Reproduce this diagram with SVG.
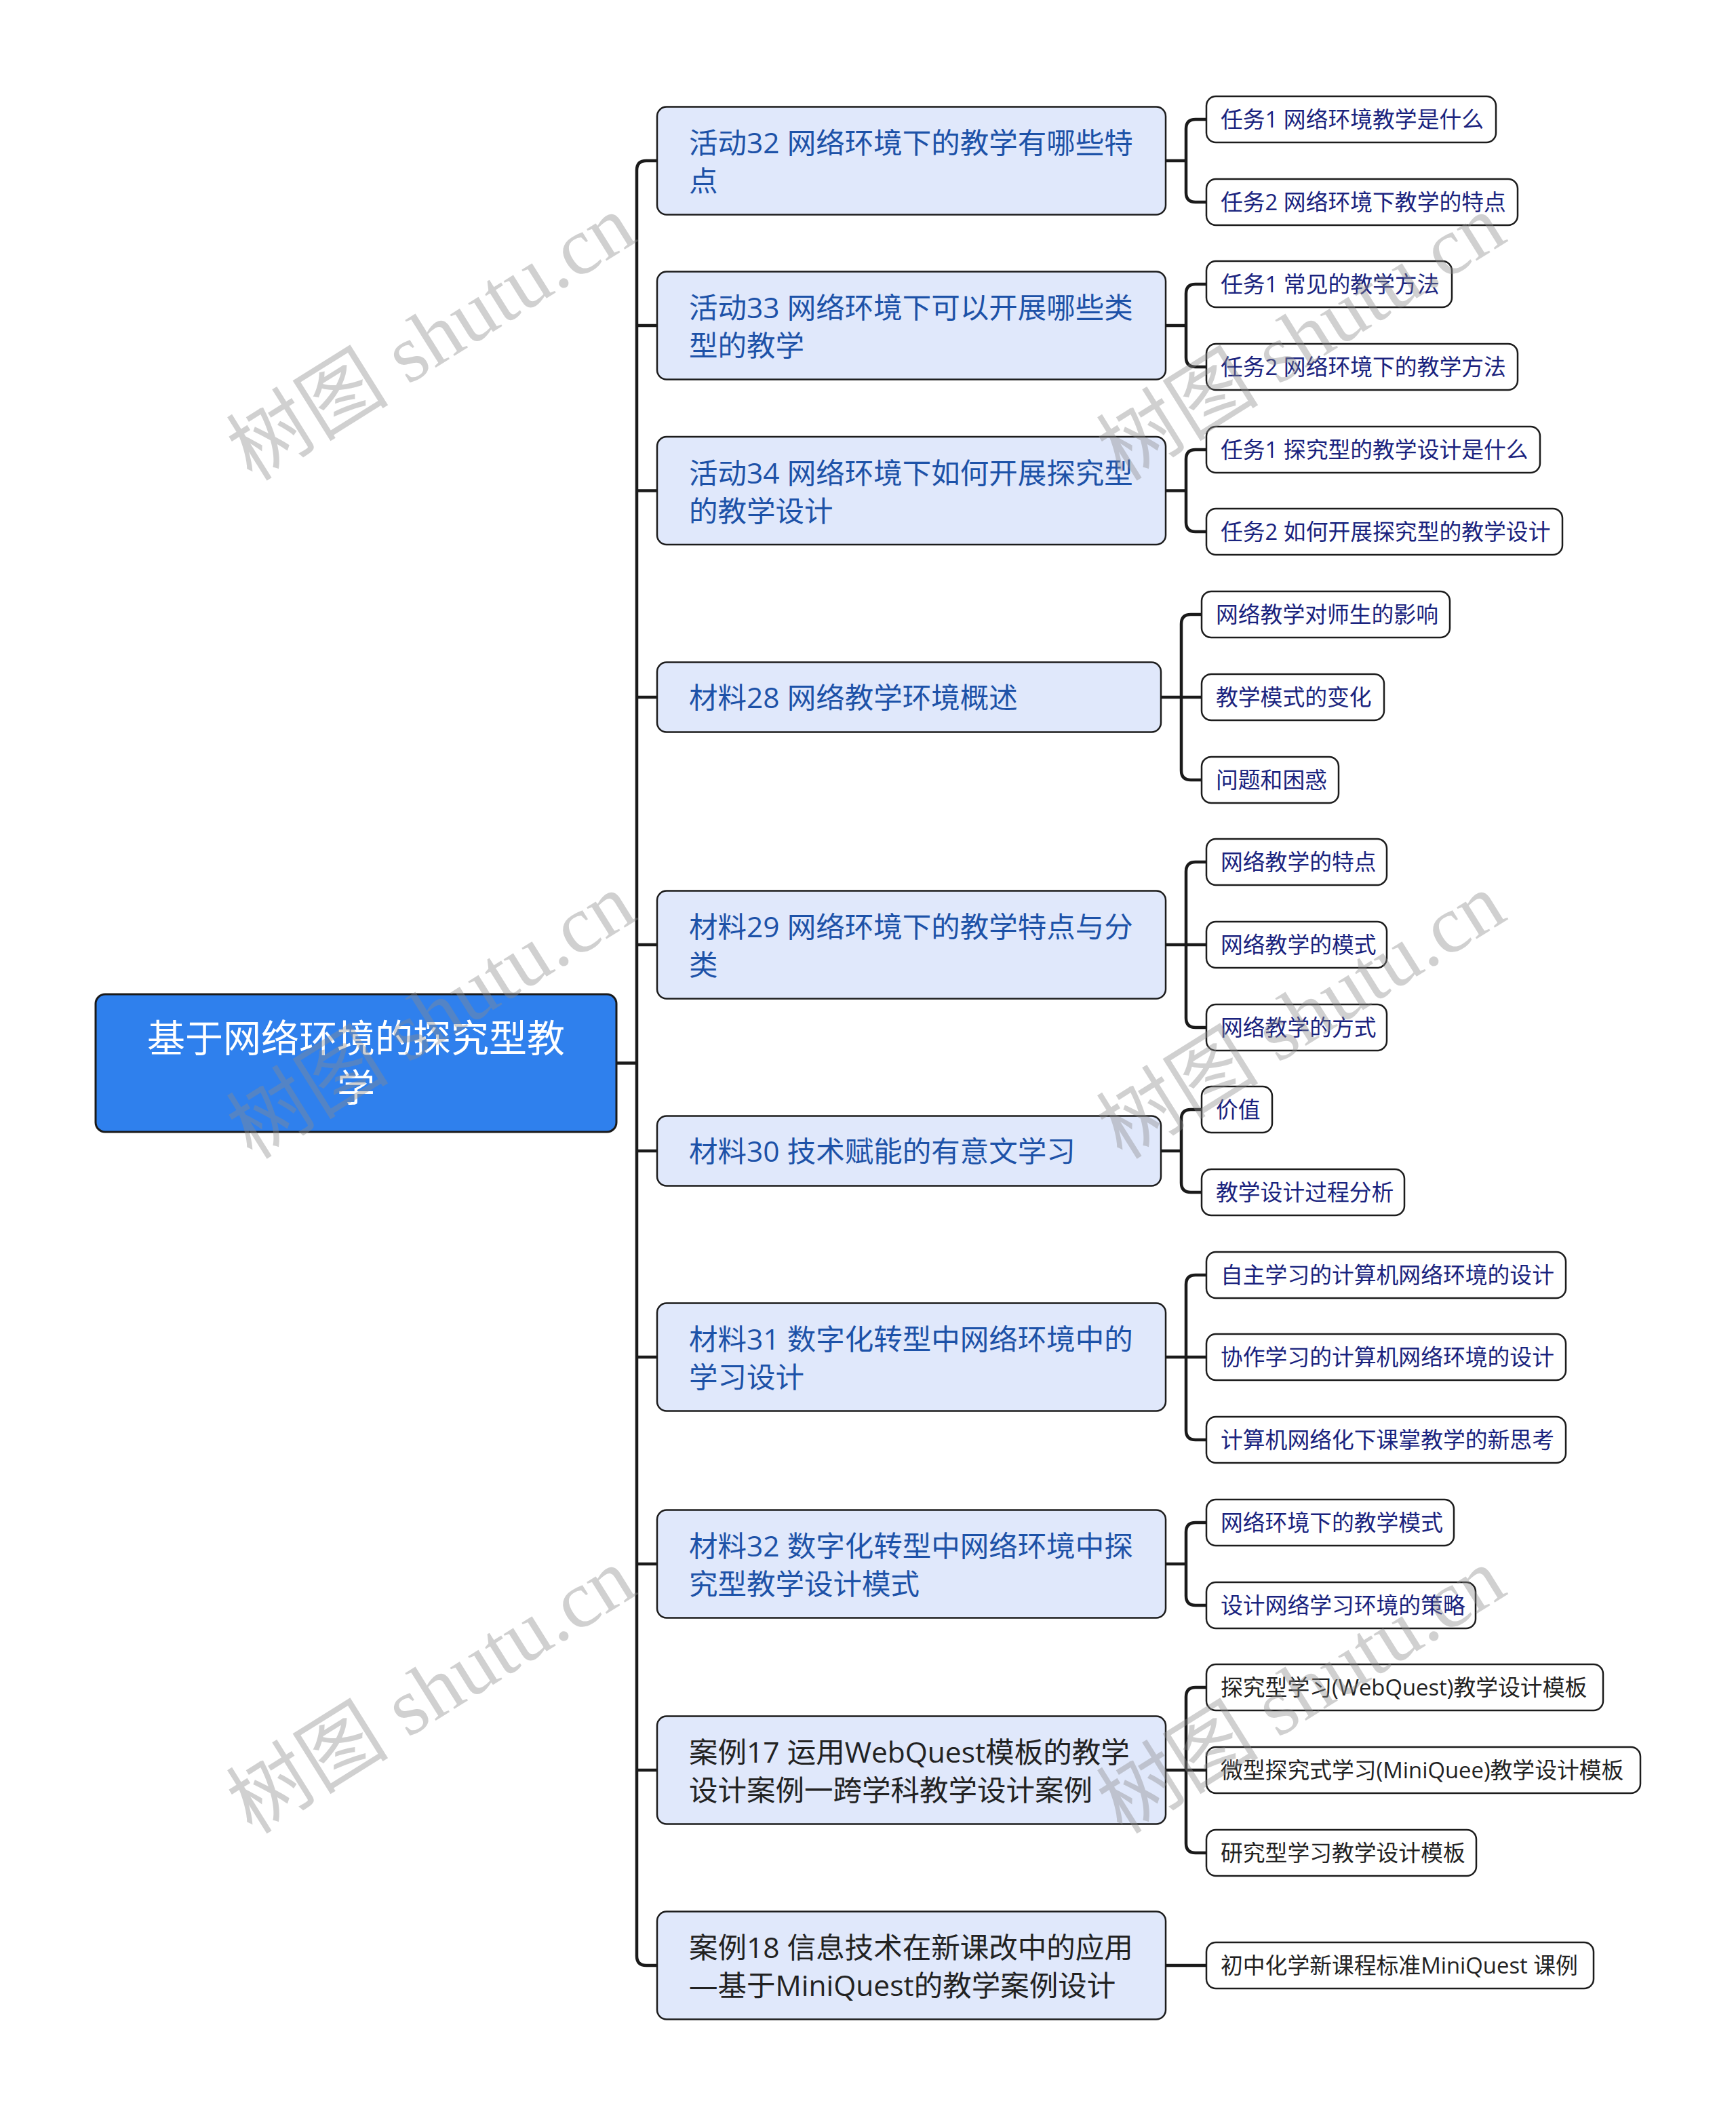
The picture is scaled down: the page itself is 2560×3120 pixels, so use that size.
<svg xmlns="http://www.w3.org/2000/svg" width="2560" height="3120" viewBox="0 0 2560 3120">
<style>
.bg{fill:#ffffff}
.root rect{fill:#2F80ED;stroke:#1a1a1a;stroke-width:3}
.root text{font-family:"Open Sans","Noto Sans CJK SC",sans-serif;font-size:56px;fill:#ffffff;text-anchor:middle}
.l1 rect{fill:#E0E8FB;stroke:#1c1c1c;stroke-width:2.5}
.l1 text{font-family:"Open Sans","Noto Sans CJK SC",sans-serif;font-size:42.5px;fill:#1D52A8}
.l1.k text{fill:#222222}
.l2 rect{fill:#ffffff;stroke:#1c1c1c;stroke-width:2.5}
.l2 text{font-family:"Open Sans","Noto Sans CJK SC",sans-serif;font-size:32.8px;fill:#1a237e}
.l2.k text{fill:#222222}
.conn path{fill:none;stroke:#1a1a1a;stroke-width:4.5}
.wm{font-family:"Liberation Serif","Noto Sans CJK SC",serif;font-size:120px;fill:#8c8c8c;opacity:0.4}
</style>
<rect class="bg" x="0" y="0" width="2560" height="3120"/>

<g id="connectors" class="conn">
  <path d="M909,1567.5 H939"/>
  <path d="M969,237 H953 Q939,237 939,251 V2884 Q939,2898 953,2898 H969"/>
  <path d="M939,480 H969"/>
  <path d="M939,723.5 H969"/>
  <path d="M939,1028 H969"/>
  <path d="M939,1393 H969"/>
  <path d="M939,1697 H969"/>
  <path d="M939,2001 H969"/>
  <path d="M939,2306 H969"/>
  <path d="M939,2610 H969"/>
  <!-- 活动32 -->
  <path d="M1719,237 H1749"/>
  <path d="M1779,176 H1763 Q1749,176 1749,190 V284 Q1749,298 1763,298 H1779"/>
  <!-- 活动33 -->
  <path d="M1719,480 H1749"/>
  <path d="M1779,419 H1763 Q1749,419 1749,433 V527 Q1749,541 1763,541 H1779"/>
  <!-- 活动34 -->
  <path d="M1719,723.5 H1749"/>
  <path d="M1779,663 H1763 Q1749,663 1749,677 V770 Q1749,784 1763,784 H1779"/>
  <!-- 材料28 -->
  <path d="M1712,1028 H1772"/>
  <path d="M1772,906 H1756 Q1742,906 1742,920 V1136 Q1742,1150 1756,1150 H1772"/>
  <!-- 材料29 -->
  <path d="M1719,1393 H1779"/>
  <path d="M1779,1271 H1763 Q1749,1271 1749,1285 V1501 Q1749,1515 1763,1515 H1779"/>
  <!-- 材料30 -->
  <path d="M1712,1697 H1742"/>
  <path d="M1772,1636 H1756 Q1742,1636 1742,1650 V1744 Q1742,1758 1756,1758 H1772"/>
  <!-- 材料31 -->
  <path d="M1719,2001 H1779"/>
  <path d="M1779,1880 H1763 Q1749,1880 1749,1894 V2109 Q1749,2123 1763,2123 H1779"/>
  <!-- 材料32 -->
  <path d="M1719,2306 H1749"/>
  <path d="M1779,2245 H1763 Q1749,2245 1749,2259 V2353 Q1749,2367 1763,2367 H1779"/>
  <!-- 案例17 -->
  <path d="M1719,2610 H1779"/>
  <path d="M1779,2488 H1763 Q1749,2488 1749,2502 V2718 Q1749,2732 1763,2732 H1779"/>
  <!-- 案例18 -->
  <path d="M1719,2898 H1779"/>
</g>

<g id="root" class="root">
  <rect x="141" y="1466" width="768" height="203" rx="14"/>
  <text x="525" y="1551">基于网络环境的探究型教</text>
  <text x="525" y="1624">学</text>
</g>

<g id="n-hd32" class="l1">
  <rect x="969" y="157.5" width="750" height="159" rx="14"/>
  <text x="1016" y="226">活动32 网络环境下的教学有哪些特</text>
  <text x="1016" y="282">点</text>
</g>
<g id="n-hd33" class="l1">
  <rect x="969" y="400.5" width="750" height="159" rx="14"/>
  <text x="1016" y="469">活动33 网络环境下可以开展哪些类</text>
  <text x="1016" y="525">型的教学</text>
</g>
<g id="n-hd34" class="l1">
  <rect x="969" y="644" width="750" height="159" rx="14"/>
  <text x="1016" y="712.5">活动34 网络环境下如何开展探究型</text>
  <text x="1016" y="768.5">的教学设计</text>
</g>
<g id="n-cl28" class="l1">
  <rect x="969" y="976.5" width="743" height="103" rx="14"/>
  <text x="1016" y="1044">材料28 网络教学环境概述</text>
</g>
<g id="n-cl29" class="l1">
  <rect x="969" y="1313.5" width="750" height="159" rx="14"/>
  <text x="1016" y="1382">材料29 网络环境下的教学特点与分</text>
  <text x="1016" y="1438">类</text>
</g>
<g id="n-cl30" class="l1">
  <rect x="969" y="1645.5" width="743" height="103" rx="14"/>
  <text x="1016" y="1713">材料30 技术赋能的有意文学习</text>
</g>
<g id="n-cl31" class="l1">
  <rect x="969" y="1921.5" width="750" height="159" rx="14"/>
  <text x="1016" y="1990">材料31 数字化转型中网络环境中的</text>
  <text x="1016" y="2046">学习设计</text>
</g>
<g id="n-cl32" class="l1">
  <rect x="969" y="2226.5" width="750" height="159" rx="14"/>
  <text x="1016" y="2295">材料32 数字化转型中网络环境中探</text>
  <text x="1016" y="2351">究型教学设计模式</text>
</g>
<g id="n-al17" class="l1 k">
  <rect x="969" y="2530.5" width="750" height="159" rx="14"/>
  <text x="1016" y="2599">案例17 运用WebQuest模板的教学</text>
  <text x="1016" y="2655">设计案例一跨学科教学设计案例</text>
</g>
<g id="n-al18" class="l1 k">
  <rect x="969" y="2818.5" width="750" height="159" rx="14"/>
  <text x="1016" y="2887">案例18 信息技术在新课改中的应用</text>
  <text x="1016" y="2943">—基于MiniQuest的教学案例设计</text>
</g>

<g id="c00" class="l2"><rect x="1779" y="142" width="427" height="68" rx="14"/><text x="1800" y="188">任务1 网络环境教学是什么</text></g>
<g id="c01" class="l2"><rect x="1779" y="264" width="459" height="68" rx="14"/><text x="1800" y="310">任务2 网络环境下教学的特点</text></g>
<g id="c02" class="l2"><rect x="1779" y="385" width="362" height="68" rx="14"/><text x="1800" y="431">任务1 常见的教学方法</text></g>
<g id="c03" class="l2"><rect x="1779" y="507" width="459" height="68" rx="14"/><text x="1800" y="553">任务2 网络环境下的教学方法</text></g>
<g id="c04" class="l2"><rect x="1779" y="629" width="492" height="68" rx="14"/><text x="1800" y="675">任务1 探究型的教学设计是什么</text></g>
<g id="c05" class="l2"><rect x="1779" y="750" width="525" height="68" rx="14"/><text x="1800" y="796">任务2 如何开展探究型的教学设计</text></g>
<g id="c06" class="l2"><rect x="1772" y="872" width="366" height="68" rx="14"/><text x="1793" y="918">网络教学对师生的影响</text></g>
<g id="c07" class="l2"><rect x="1772" y="994" width="269" height="68" rx="14"/><text x="1793" y="1040">教学模式的变化</text></g>
<g id="c08" class="l2"><rect x="1772" y="1116" width="202" height="68" rx="14"/><text x="1793" y="1162">问题和困惑</text></g>
<g id="c09" class="l2"><rect x="1779" y="1237" width="266" height="68" rx="14"/><text x="1800" y="1283">网络教学的特点</text></g>
<g id="c10" class="l2"><rect x="1779" y="1359" width="266" height="68" rx="14"/><text x="1800" y="1405">网络教学的模式</text></g>
<g id="c11" class="l2"><rect x="1779" y="1481" width="266" height="68" rx="14"/><text x="1800" y="1527">网络教学的方式</text></g>
<g id="c12" class="l2"><rect x="1772" y="1602" width="104" height="68" rx="14"/><text x="1793" y="1648">价值</text></g>
<g id="c13" class="l2"><rect x="1772" y="1724" width="299" height="68" rx="14"/><text x="1793" y="1770">教学设计过程分析</text></g>
<g id="c14" class="l2"><rect x="1779" y="1846" width="530" height="68" rx="14"/><text x="1800" y="1892">自主学习的计算机网络环境的设计</text></g>
<g id="c15" class="l2"><rect x="1779" y="1967" width="530" height="68" rx="14"/><text x="1800" y="2013">协作学习的计算机网络环境的设计</text></g>
<g id="c16" class="l2"><rect x="1779" y="2089" width="530" height="68" rx="14"/><text x="1800" y="2135">计算机网络化下课掌教学的新思考</text></g>
<g id="c17" class="l2"><rect x="1779" y="2211" width="365" height="68" rx="14"/><text x="1800" y="2257">网络环境下的教学模式</text></g>
<g id="c18" class="l2"><rect x="1779" y="2333" width="397" height="68" rx="14"/><text x="1800" y="2379">设计网络学习环境的策略</text></g>
<g id="c19" class="l2 k"><rect x="1779" y="2454" width="585" height="68" rx="14"/><text x="1800" y="2500">探究型学习(WebQuest)教学设计模板</text></g>
<g id="c20" class="l2 k"><rect x="1779" y="2576" width="640" height="68" rx="14"/><text x="1800" y="2622">微型探究式学习(MiniQuee)教学设计模板</text></g>
<g id="c21" class="l2 k"><rect x="1779" y="2698" width="398" height="68" rx="14"/><text x="1800" y="2744">研究型学习教学设计模板</text></g>
<g id="c22" class="l2 k"><rect x="1779" y="2864" width="571" height="68" rx="14"/><text x="1800" y="2910">初中化学新课程标准MiniQuest 课例</text></g>

<g id="watermarks">
  <text class="wm" transform="translate(372,711) rotate(-32)">树图 shutu.cn</text>
  <text class="wm" transform="translate(1655,711) rotate(-32)">树图 shutu.cn</text>
  <text class="wm" transform="translate(372,1711) rotate(-32)">树图 shutu.cn</text>
  <text class="wm" transform="translate(1655,1711) rotate(-32)">树图 shutu.cn</text>
  <text class="wm" transform="translate(372,2706) rotate(-32)">树图 shutu.cn</text>
  <text class="wm" transform="translate(1655,2706) rotate(-32)">树图 shutu.cn</text>
</g>
</svg>
